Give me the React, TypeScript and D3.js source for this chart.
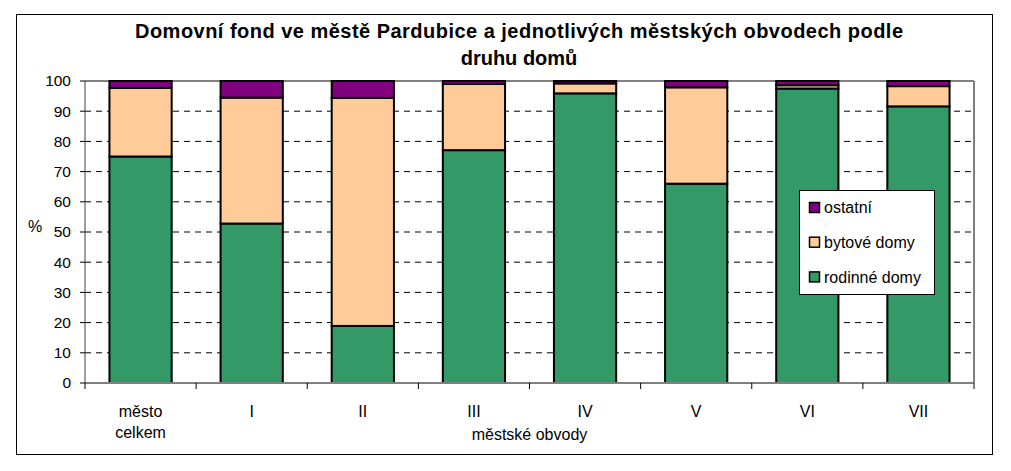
import React from "react";
import * as d3 from "d3";

const categories = ["město\ncelkem", "I", "II", "III", "IV", "V", "VI", "VII"];
const rodinneDomy = [75.0, 52.8, 18.9, 77.1, 95.9, 66.0, 97.5, 91.6];
const bytoveDomy = [22.7, 41.7, 75.5, 21.9, 3.3, 31.9, 1.1, 6.7];
const ostatni = [2.3, 5.5, 5.6, 1.0, 0.8, 2.1, 1.4, 1.7];
const yTicks = [0, 10, 20, 30, 40, 50, 60, 70, 80, 90, 100];

const seriesNames = ["rodinné domy", "bytové domy", "ostatní"];
const seriesColors = ["#339966", "#FFCC99", "#800080"];
const titleLines = [
  "Domovní fond ve městě Pardubice a jednotlivých městských obvodech podle",
  "druhu domů",
];
const xTitle = "městské obvody";
const yTitle = "%";

const W = 1011;
const H = 471;
const plot = { left: 85, right: 974, top: 81, bottom: 383 };
const FONT = "Arial, 'Liberation Sans', Helvetica, sans-serif";

export default function App() {
  const x = d3
    .scaleBand<number>()
    .domain(d3.range(categories.length))
    .range([plot.left, plot.right])
    .paddingInner(0.44)
    .paddingOuter(0.22);
  const y = d3.scaleLinear().domain([0, 100]).range([plot.bottom, plot.top]);

  const rows = categories.map((c, i) => ({
    i,
    r: rodinneDomy[i],
    b: bytoveDomy[i],
    o: ostatni[i],
  }));
  const stack = d3.stack<any>().keys(["r", "b", "o"]);
  const stacked = stack(rows);

  const step = x.step();
  const boundaries = d3.range(categories.length + 1).map(
    (k) => plot.left + k * step
  );

  return (
    <svg
      width={W}
      height={H}
      style={{ position: "absolute", left: 0, top: 0, background: "#fff" }}
      fontFamily={FONT}
    >
      <rect x={0} y={0} width={W} height={H} fill="#fff" />
      <rect x={16.5} y={14.5} width={976} height={440} fill="#fff" stroke="#000" strokeWidth={1} />
      <text x={519} y={38} textAnchor="middle" fontSize={20} fontWeight="bold" fill="#000"
        textLength={768} lengthAdjust="spacing">
        {titleLines[0]}
      </text>
      <text x={519} y={65} textAnchor="middle" fontSize={20} fontWeight="bold" fill="#000">
        {titleLines[1]}
      </text>

      {/* gridlines */}
      {yTicks
        .filter((v) => v > 0 && v < 100)
        .map((v) => (
          <line
            key={v}
            x1={plot.left}
            x2={plot.right}
            y1={y(v)}
            y2={y(v)}
            stroke="#000"
            strokeWidth={1}
            strokeDasharray="6,5"
          />
        ))}

      {/* plot frame (gray) */}
      <line x1={plot.left} x2={plot.right} y1={plot.top} y2={plot.top} stroke="#808080" strokeWidth={2} />
      <line x1={plot.right} x2={plot.right} y1={plot.top} y2={plot.bottom} stroke="#808080" strokeWidth={2} />

      {/* bars */}
      {stacked.map((layer, si) => (
        <g key={si}>
          {layer.map((d, ci) => (
            <rect
              key={ci}
              x={x(ci)!}
              y={y(d[1])}
              width={x.bandwidth()}
              height={y(d[0]) - y(d[1])}
              fill={seriesColors[si]}
              stroke="#000"
              strokeWidth={2}
            />
          ))}
        </g>
      ))}

      {/* axes */}
      <line x1={plot.left} x2={plot.right} y1={plot.bottom} y2={plot.bottom} stroke="#808080" strokeWidth={2} />
      <line x1={plot.left} x2={plot.left} y1={plot.top} y2={plot.bottom} stroke="#404040" strokeWidth={1} />
      {yTicks.map((v) => (
        <g key={v}>
          <line x1={plot.left - 5} x2={plot.left} y1={y(v)} y2={y(v)} stroke="#000" strokeWidth={1} />
          <text
            x={plot.left - 14}
            y={y(v)}
            dy="0.35em"
            textAnchor="end"
            fontSize={15.5}
            fill="#000"
          >
            {v}
          </text>
        </g>
      ))}
      {boundaries.map((bx, k) => (
        <line key={k} x1={bx} x2={bx} y1={plot.bottom} y2={plot.bottom + 6} stroke="#000" strokeWidth={1} />
      ))}
      {categories.map((c, i) => (
        <text
          key={i}
          x={x(i)! + x.bandwidth() / 2}
          y={417}
          textAnchor="middle"
          fontSize={16}
          fill="#000"
        >
          {c.split("\n").map((line, li) => (
            <tspan key={li} x={x(i)! + x.bandwidth() / 2} dy={li === 0 ? 0 : 21}>
              {line}
            </tspan>
          ))}
        </text>
      ))}
      <text x={(plot.left + plot.right) / 2} y={440} textAnchor="middle" fontSize={16} fill="#000">
        {xTitle}
      </text>
      <text x={35} y={232} textAnchor="middle" fontSize={16} fill="#000">
        {yTitle}
      </text>

      {/* legend */}
      <rect x={799.5} y={190.5} width={135} height={104} fill="#fff" stroke="#000" strokeWidth={1} />
      {[2, 1, 0].map((si, k) => (
        <g key={si}>
          <rect
            x={809.5}
            y={202.5 + k * 34.7}
            width={10}
            height={10}
            fill={seriesColors[si]}
            stroke="#000"
            strokeWidth={1.5}
          />
          <text x={824} y={207.7 + k * 34.7} dy="0.35em" fontSize={16} fill="#000">
            {seriesNames[si]}
          </text>
        </g>
      ))}
    </svg>
  );
}
